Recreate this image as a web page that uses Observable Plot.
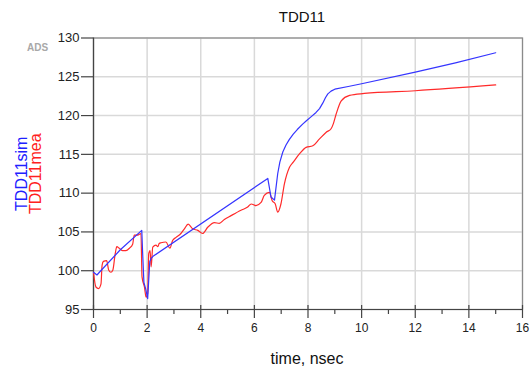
<!DOCTYPE html>
<html>
<head>
<meta charset="utf-8">
<script src="https://cdn.jsdelivr.net/npm/d3@7"></script>
<script src="https://cdn.jsdelivr.net/npm/@observablehq/plot@0.6"></script>
<style>
  html, body { margin: 0; padding: 0; background: #fff; }
</style>
</head>
<body>
<div id="chart"></div>
<script>
// Simulated TDD11 (blue)
const simTime = [0, 0.13, 0.22, 1.0, 1.8, 1.83, 1.88, 1.95, 2.02, 2.1, 2.15, 2.22, 6.5, 6.62, 6.75, 6.87, 6.95, 7.06, 7.18, 7.3, 7.45, 7.6, 7.8, 7.93, 8.1, 8.3, 8.43, 8.55, 8.65, 8.74, 8.86, 9.0, 9.5, 10.0, 12.0, 13.5, 15.0];
const simVal  = [99.8, 99.45, 99.8, 102.7, 105.2, 102.5, 98.5, 97.6, 96.4, 101.2, 101.6, 101.85, 111.9, 109.5, 109.1, 112.5, 114.0, 115.3, 116.2, 116.9, 117.6, 118.2, 118.9, 119.3, 119.8, 120.4, 120.9, 121.6, 122.3, 122.8, 123.15, 123.4, 123.75, 124.1, 125.6, 126.8, 128.1];

// Measured TDD11 (red)
const meaTime = [0, 0.09, 0.19, 0.28, 0.32, 0.37, 0.49, 0.57, 0.65, 0.72, 0.81, 0.87, 0.96, 1.09, 1.21, 1.34, 1.46, 1.52, 1.65, 1.77, 1.81, 1.9, 1.96, 2.02, 2.06, 2.11, 2.15, 2.21, 2.33, 2.4, 2.45, 2.52, 2.7, 2.85, 2.95, 3.08, 3.26, 3.39, 3.53, 3.7, 3.89, 4.07, 4.26, 4.51, 4.69, 4.88, 5.13, 5.5, 5.75, 5.88, 6.06, 6.25, 6.37, 6.56, 6.66, 6.78, 6.87, 6.99, 7.12, 7.31, 7.45, 7.68, 7.93, 8.18, 8.43, 8.68, 8.86, 8.95, 9.05, 9.24, 9.55, 10.1, 12.0, 15.0];
const meaVal  = [99.8, 97.9, 97.7, 98.3, 100.7, 101.2, 101.3, 100.05, 99.8, 100.05, 102.2, 103.1, 102.9, 102.6, 102.6, 102.9, 103.4, 104.6, 104.6, 104.8, 99.2, 97.9, 96.6, 97.05, 102.2, 102.6, 100.5, 103.05, 103.3, 103.1, 103.5, 103.6, 103.7, 102.9, 103.9, 104.3, 104.8, 105.4, 106.0, 105.4, 105.2, 104.8, 105.6, 106.2, 106.1, 106.6, 107.1, 107.8, 108.2, 108.6, 108.4, 108.8, 109.7, 110.1, 109.05, 108.6, 107.55, 108.6, 111.2, 113.35, 114.0, 115.05, 115.9, 116.1, 117.0, 117.85, 118.3, 119.0, 120.2, 121.9, 122.6, 122.85, 123.2, 123.95];

const xMajor = [0, 2, 4, 6, 8, 10, 12, 14, 16];
const xMinor = [1, 3, 5, 7, 9, 11, 13, 15];
const yMajor = [95, 100, 105, 110, 115, 120, 125, 130];

const titleText = ["TDD11"];
const xLabel = ["time, nsec"];
const simLabel = ["TDD11sim"];
const meaLabel = ["TDD11mea"];
const adsLabel = ["ADS"];

const sim = simTime.map((t, i) => ({t, v: simVal[i]}));
const mea = meaTime.map((t, i) => ({t, v: meaVal[i]}));

const gridStyle = {stroke: "#d9d9d9", strokeOpacity: 1, strokeWidth: 1.5};

const chart = Plot.plot({
  width: 531,
  height: 371,
  marginLeft: 93,
  marginRight: 9,
  marginTop: 37.5,
  marginBottom: 62,
  style: {fontFamily: "'Liberation Sans', Arial, sans-serif", background: "#fff", color: "#222"},
  x: {domain: [0, 16], label: null},
  y: {domain: [95, 130], label: null},
  marks: [
    Plot.gridX(xMajor, gridStyle),
    Plot.gridY(yMajor, gridStyle),
    Plot.frame({stroke: "#8a8a8a", strokeWidth: 1.2}),
    Plot.ruleY([95], {stroke: "#444", strokeWidth: 1.2}),
    Plot.ruleX([0], {stroke: "#444", strokeWidth: 1.2}),
    Plot.axisX(xMajor, {tickSize: 13, dy: -4, fill: "none", stroke: "#444", strokeWidth: 1.2, label: null}),
    Plot.axisX(xMinor, {tickSize: 5, fill: "none", stroke: "#444", strokeWidth: 1.2, label: null}),
    Plot.axisX(xMajor, {tickSize: 0, tickPadding: 14, fontSize: 12, fill: "#222", label: null}),
    Plot.axisY(yMajor, {tickSize: 12, tickPadding: 2, fontSize: 13, fill: "#222", stroke: "#444", strokeWidth: 1.2, label: null}),
    Plot.line(mea, {x: "t", y: "v", stroke: "#ff2a2a", strokeWidth: 1.2, curve: "monotone-x"}),
    Plot.line(sim, {x: "t", y: "v", stroke: "#3535ff", strokeWidth: 1.2, curve: "linear"}),
    Plot.text(titleText, {frameAnchor: "top", dx: -6, dy: -21.2, fontSize: 15, lineAnchor: "middle", fill: "#111"}),
    Plot.text(adsLabel, {frameAnchor: "top-left", dx: -56, dy: 9.5, fontSize: 10, fontWeight: "bold", fill: "#a8a8a8", textAnchor: "middle", lineAnchor: "middle"}),
    Plot.text(simLabel, {frameAnchor: "left", dx: -72, rotate: -90, fontSize: 16, fill: "#2020ff", textAnchor: "middle", lineAnchor: "middle"}),
    Plot.text(meaLabel, {frameAnchor: "left", dx: -57.5, rotate: -90, fontSize: 16, fill: "#ff2020", textAnchor: "middle", lineAnchor: "middle"}),
    Plot.text(xLabel, {frameAnchor: "bottom", dx: -1, dy: 49, fontSize: 16, fill: "#111", lineAnchor: "middle"})
  ]
});
document.getElementById("chart").appendChild(chart);
</script>
</body>
</html>
